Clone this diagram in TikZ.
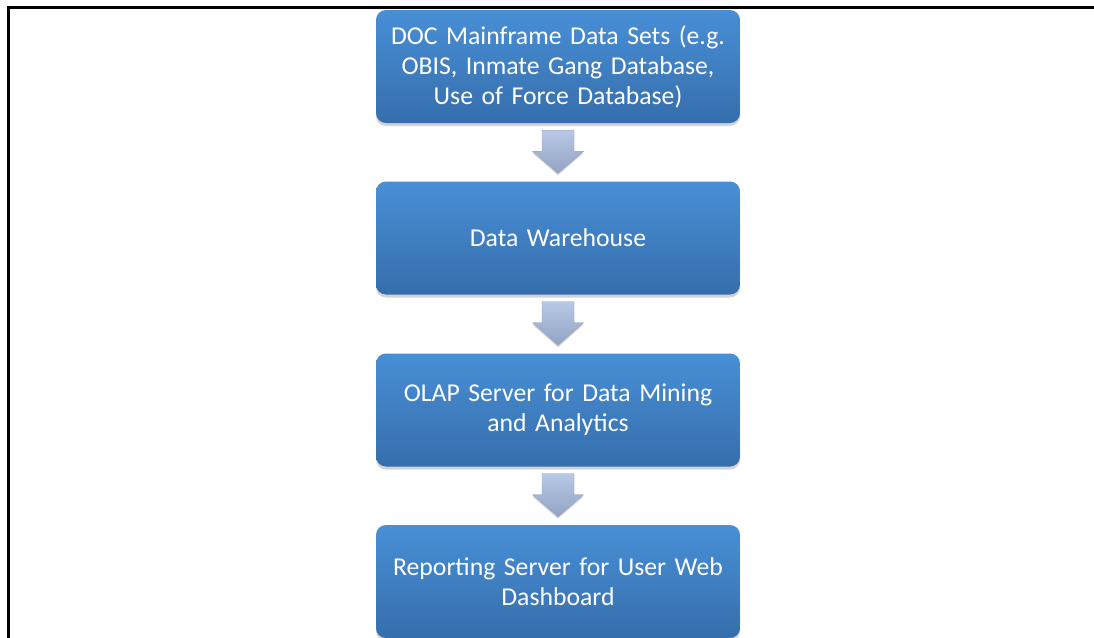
\documentclass[tikz,border=0pt]{standalone}
\usepackage{fontspec}
\setmainfont{Carlito}[WordSpace=0.75]
\usetikzlibrary{calc,shadows}
\definecolor{boxtop}{RGB}{72,143,214}
\definecolor{boxbot}{RGB}{54,110,172}
\definecolor{arrtop}{RGB}{184,201,230}
\definecolor{arrbot}{RGB}{146,163,196}
\definecolor{arredge}{RGB}{150,160,180}
\tikzset{
  stepbox/.style={rounded corners=10pt, minimum width=364pt, minimum height=113pt,
    top color=boxtop, bottom color=boxbot, draw=none, inner sep=0pt,
    text width=356pt, align=center, text=white, font=\fontsize{25.7}{30}\selectfont,
    drop shadow={shadow xshift=0pt, shadow yshift=-3pt, opacity=0.35}},
  bigarrow/.style={top color=arrtop, bottom color=arrbot, draw=arredge, line width=0.4pt,
    drop shadow={shadow xshift=0pt, shadow yshift=-2pt, opacity=0.3}}
}
\newcommand\flowarrow[2]{%
  \path[bigarrow] ($(#1.south)+(-16,7)$) -- ($(#1.south)+(16,7)$) -- ($(#1.south)+(16,28)$)
    -- ($(#1.south)+(25.5,28)$) -- ($(#2.north)+(0,-8)$) -- ($(#1.south)+(-25.5,28)$)
    -- ($(#1.south)+(-16,28)$) -- cycle;}
\begin{document}
\begin{tikzpicture}[x=1pt,y=-1pt]
\useasboundingbox (0,0) rectangle (1094,637);
\fill[white] (0,0) rectangle (1094,637);
\draw[line width=2.5pt] (8.5,645) -- (8.5,7.5) -- (1100,7.5);
\node[stepbox] (b1) at (558,66.5) {DOC Mainframe Data Sets (e.g.\\ OBIS, Inmate Gang Database,\\ Use of Force Database)};
\node[stepbox] (b2) at (558,238) {Data Warehouse};
\node[stepbox] (b3) at (558,410) {OLAP Server for Data Mining\\ and Analytics};
\node[stepbox] (b4) at (558,581.5) {Reporting Server for User Web\\ Dashboard};
\flowarrow{b1}{b2}
\flowarrow{b2}{b3}
\flowarrow{b3}{b4}
\end{tikzpicture}
\end{document}
